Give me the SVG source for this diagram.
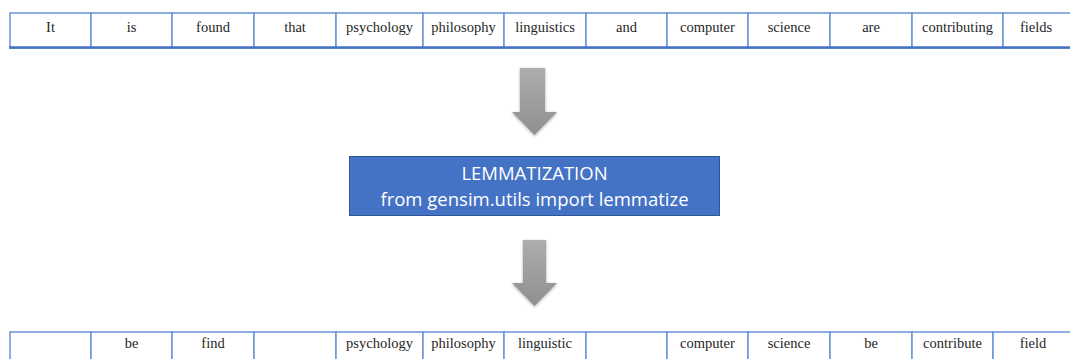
<svg xmlns="http://www.w3.org/2000/svg" width="1070" height="359" viewBox="0 0 1070 359">
<defs>
<style>
.cell{fill:#ffffff;stroke:#6A92D6;stroke-width:1.5}
.rowb{stroke:#4472C4;stroke-width:2.5}
.t{font-family:"Liberation Serif","Times New Roman",serif;font-size:14.5px;fill:#262626;text-anchor:middle}
.box{fill:#4472C4;stroke:#2F5597;stroke-width:1}
.bt{font-family:"Open Sans","Liberation Sans",sans-serif;font-size:18.5px;fill:#ffffff;text-anchor:middle}
.arr{fill:url(#ag)}
</style>
<linearGradient id="ag" x1="0" y1="0" x2="0" y2="1">
<stop offset="0" stop-color="#ADADAD"/>
<stop offset="1" stop-color="#8F8F8F"/>
</linearGradient>
<filter id="sh" x="-30%" y="-30%" width="160%" height="160%">
<feGaussianBlur in="SourceAlpha" stdDeviation="1.5"/>
<feOffset dx="0" dy="1" result="b"/>
<feComponentTransfer><feFuncA type="linear" slope="0.35"/></feComponentTransfer>
<feMerge><feMergeNode/><feMergeNode in="SourceGraphic"/></feMerge>
</filter>
</defs>
<g id="input-row">
<rect class="cell" x="10" y="13" width="81" height="35"/>
<rect class="cell" x="91" y="13" width="81" height="35"/>
<rect class="cell" x="172" y="13" width="82" height="35"/>
<rect class="cell" x="254" y="13" width="82" height="35"/>
<rect class="cell" x="336" y="13" width="87" height="35"/>
<rect class="cell" x="423" y="13" width="81" height="35"/>
<rect class="cell" x="504" y="13" width="82" height="35"/>
<rect class="cell" x="586" y="13" width="81" height="35"/>
<rect class="cell" x="667" y="13" width="81" height="35"/>
<rect class="cell" x="748" y="13" width="82" height="35"/>
<rect class="cell" x="830" y="13" width="82" height="35"/>
<rect class="cell" x="912" y="13" width="91" height="35"/>
<rect class="cell" x="1003" y="13" width="80" height="35"/>
<line class="rowb" x1="9" y1="47.5" x2="1070" y2="47.5"/>
<text class="t" x="50.5" y="32">It</text>
<text class="t" x="131.5" y="32">is</text>
<text class="t" x="213" y="32">found</text>
<text class="t" x="295" y="32">that</text>
<text class="t" x="379.5" y="32">psychology</text>
<text class="t" x="463.5" y="32">philosophy</text>
<text class="t" x="545" y="32">linguistics</text>
<text class="t" x="626.5" y="32">and</text>
<text class="t" x="707.5" y="32">computer</text>
<text class="t" x="789" y="32">science</text>
<text class="t" x="871" y="32">are</text>
<text class="t" x="957.5" y="32">contributing</text>
<text class="t" x="1036" y="32">fields</text>
</g>
<g id="arrow-1">
<path class="arr" filter="url(#sh)" d="M520,68 H545 V112 H557 L534.5,135 L512,112 H520 Z"/>
</g>
<g id="lemmatization">
<rect class="box" x="349.5" y="156.5" width="370" height="59"/>
<text class="bt" x="534.5" y="180">LEMMATIZATION</text>
<text class="bt" x="534.5" y="206">from gensim.utils import lemmatize</text>
</g>
<g id="arrow-2">
<path class="arr" filter="url(#sh)" d="M523,240 H546 V283 H557 L534.5,306 L512,283 H523 Z"/>
</g>
<g id="output-row">
<rect class="cell" x="10" y="332" width="81" height="40"/>
<rect class="cell" x="91" y="332" width="81" height="40"/>
<rect class="cell" x="172" y="332" width="82" height="40"/>
<rect class="cell" x="254" y="332" width="82" height="40"/>
<rect class="cell" x="336" y="332" width="87" height="40"/>
<rect class="cell" x="423" y="332" width="81" height="40"/>
<rect class="cell" x="504" y="332" width="82" height="40"/>
<rect class="cell" x="586" y="332" width="81" height="40"/>
<rect class="cell" x="667" y="332" width="81" height="40"/>
<rect class="cell" x="748" y="332" width="82" height="40"/>
<rect class="cell" x="830" y="332" width="82" height="40"/>
<rect class="cell" x="912" y="332" width="81" height="40"/>
<rect class="cell" x="993" y="332" width="90" height="40"/>
<text class="t" x="131.5" y="348">be</text>
<text class="t" x="213" y="348">find</text>
<text class="t" x="379.5" y="348">psychology</text>
<text class="t" x="463.5" y="348">philosophy</text>
<text class="t" x="545" y="348">linguistic</text>
<text class="t" x="707.5" y="348">computer</text>
<text class="t" x="789" y="348">science</text>
<text class="t" x="871" y="348">be</text>
<text class="t" x="952.5" y="348">contribute</text>
<text class="t" x="1033" y="348">field</text>
</g>
</svg>
